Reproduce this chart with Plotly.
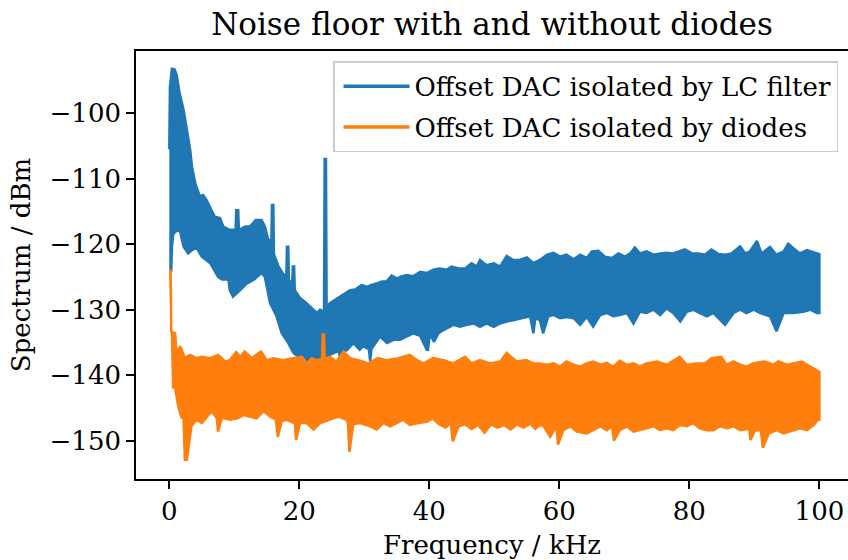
import plotly.graph_objects as go

# Spectrum envelopes (frequency in kHz, level in dBm).
# The measured traces are dense noise, so each one is kept as its upper and
# lower envelope and drawn as a filled band between them.

# --- Offset DAC isolated by LC filter ---------------------------------------
lc_upper_freq = [0.0, 0.1, 0.4, 0.8, 1.1, 1.6, 2.2, 2.7, 3.2, 3.5, 4.0, 4.7, 5.2,
                 5.7, 6.3, 7.0, 7.8, 8.3, 9.3, 10.2, 10.3, 10.6, 10.7, 11.7, 12.4,
                 13.3, 14.2, 14.7, 15.2, 15.7, 15.8, 16.0, 16.1, 16.8, 17.5, 18.0,
                 18.1, 18.3, 18.4, 18.9, 19.0, 19.2, 19.3, 20.1, 20.9, 21.6, 22.2,
                 22.7, 23.2, 23.8, 23.9, 24.1, 24.2, 24.7, 25.5, 26.3, 27.0, 27.8,
                 28.6, 29.6, 30.4, 31.1, 31.9, 32.7, 33.4, 34.2, 35.0, 35.7, 36.5,
                 37.5, 38.6, 39.6, 40.6, 41.6, 42.7, 43.4, 44.5, 45.5, 46.5, 47.3,
                 47.8, 48.8, 49.9, 50.9, 51.9, 52.9, 53.9, 55.0, 56.0, 57.0, 58.1,
                 59.1, 60.1, 61.1, 62.2, 63.2, 64.2, 65.0, 66.0, 67.0, 68.1, 69.1,
                 70.1, 70.9, 71.6, 72.4, 73.4, 74.5, 75.5, 76.5, 77.5, 78.6, 79.3,
                 80.4, 81.4, 82.4, 83.4, 84.5, 85.5, 86.5, 87.8, 88.6, 89.3, 90.4,
                 91.1, 92.4, 93.4, 94.5, 95.2, 96.0, 97.0, 98.1, 98.8, 99.8, 100.0]
lc_upper = [-105.5, -96.0, -93.2, -93.3, -94.0, -97.0, -99.5, -102.5, -105.5, -108.2,
            -110.7, -112.7, -112.5, -113.2, -114.3, -115.8, -116.0, -117.3, -117.8,
            -117.8, -114.8, -114.8, -117.8, -117.3, -117.3, -116.3, -116.3, -117.3,
            -119.2, -119.8, -114.0, -114.0, -121.5, -123.4, -124.5, -125.0, -120.4,
            -120.4, -125.5, -126.0, -123.4, -123.4, -127.0, -128.2, -128.8, -129.5,
            -130.0, -130.5, -130.0, -130.3, -107.0, -107.0, -129.5, -129.0, -128.5,
            -128.0, -127.5, -127.0, -126.9, -126.2, -126.5, -126.2, -126.0, -125.7,
            -125.7, -124.8, -125.2, -124.9, -124.7, -124.9, -124.2, -124.4, -123.9,
            -123.7, -123.9, -123.4, -123.7, -123.7, -122.9, -123.4, -122.4, -123.2,
            -122.9, -123.4, -121.8, -122.4, -122.4, -122.0, -122.9, -122.4, -121.6,
            -121.3, -121.9, -121.6, -122.3, -121.6, -122.1, -121.1, -121.0, -121.9,
            -122.1, -121.4, -121.9, -121.4, -120.5, -121.4, -121.1, -121.6, -121.4,
            -121.3, -121.4, -121.1, -120.8, -121.4, -121.4, -121.6, -120.8, -121.5,
            -121.6, -121.4, -120.3, -121.4, -121.1, -119.5, -121.4, -120.4, -121.6,
            -121.1, -119.9, -120.6, -121.4, -120.9, -121.1, -121.4, -121.5]

lc_lower_freq = [0.0, 0.3, 0.4, 0.6, 0.9, 1.6, 2.2, 2.9, 3.5, 4.2, 5.0, 6.3, 7.5,
                 8.1, 9.1, 9.3, 9.8, 10.9, 11.9, 13.0, 14.2, 14.7, 15.5, 16.5,
                 17.3, 18.3, 19.1, 20.1, 21.1, 22.7, 23.2, 24.7, 25.5, 26.1, 26.3,
                 26.5, 27.3, 28.3, 29.3, 29.8, 30.7, 30.9, 31.1, 32.4, 33.5, 34.5,
                 35.5, 36.5, 37.5, 38.6, 39.6, 39.8, 40.1, 40.7, 41.4, 42.2, 43.1,
                 43.7, 44.7, 45.8, 46.8, 47.8, 48.8, 49.9, 50.9, 51.9, 52.9, 53.9,
                 55.5, 56.0, 56.3, 57.0, 57.5, 58.3, 59.1, 60.1, 61.1, 62.2, 63.2,
                 64.2, 65.2, 66.3, 67.3, 68.3, 69.3, 70.4, 71.4, 72.4, 73.4, 74.5,
                 75.5, 76.5, 77.5, 78.6, 79.6, 80.6, 81.6, 82.7, 83.7, 85.5, 86.8,
                 87.8, 88.8, 89.9, 90.9, 92.4, 93.4, 94.5, 96.0, 97.5, 98.6, 99.6,
                 100.0]
lc_lower = [-124.0, -124.0, -120.4, -118.5, -118.1, -117.8, -120.4, -121.4, -120.9,
            -120.5, -121.9, -122.9, -125.0, -125.4, -125.4, -127.0, -128.0, -127.0,
            -126.0, -125.4, -124.4, -125.0, -129.0, -131.0, -133.6, -135.1, -136.6,
            -137.4, -137.9, -138.2, -137.7, -136.9, -136.5, -136.3, -137.9, -136.3,
            -136.2, -135.1, -136.1, -135.6, -136.0, -137.9, -136.0, -134.1, -135.1,
            -134.6, -134.6, -134.1, -133.6, -134.0, -136.1, -136.1, -133.6, -134.9,
            -133.6, -133.1, -132.6, -132.3, -132.6, -132.3, -132.1, -132.6, -132.1,
            -132.6, -132.1, -131.8, -131.6, -131.3, -131.0, -133.6, -131.3, -131.6,
            -133.6, -131.0, -130.8, -131.3, -131.1, -131.3, -132.3, -131.1, -132.6,
            -130.8, -130.5, -131.0, -130.8, -130.5, -132.1, -130.3, -130.5, -130.0,
            -130.8, -129.8, -130.5, -131.8, -130.3, -130.0, -130.5, -131.0, -130.5,
            -132.3, -130.5, -130.0, -130.5, -130.0, -130.5, -131.0, -133.3, -130.5,
            -130.5, -130.3, -130.0, -130.5, -130.5]

# --- Offset DAC isolated by diodes ------------------------------------------
diode_upper_freq = [0.0, 0.2, 0.3, 0.9, 1.1, 1.7, 2.4, 3.2, 4.2, 5.0, 6.3, 7.5,
                    8.6, 9.3, 10.3, 10.9, 11.6, 12.7, 14.1, 15.0, 16.0, 17.5,
                    19.0, 20.4, 21.2, 21.9, 22.7, 23.5, 23.6, 23.8, 23.9, 24.7,
                    25.7, 26.8, 27.8, 29.1, 30.6, 32.1, 33.4, 35.2, 37.0, 38.1,
                    39.1, 40.6, 42.2, 43.7, 45.5, 46.5, 47.8, 49.3, 50.9, 51.9,
                    53.4, 54.9, 56.0, 57.0, 58.1, 59.1, 60.1, 61.1, 62.2, 63.2,
                    64.2, 65.2, 66.3, 67.3, 68.3, 69.3, 70.4, 71.4, 72.4, 73.4,
                    75.0, 76.5, 78.5, 79.6, 81.1, 82.4, 83.4, 84.9, 85.7, 86.8,
                    87.8, 88.8, 89.8, 91.6, 92.9, 93.7, 95.0, 96.0, 97.3, 98.6,
                    99.8, 100.0]
diode_upper = [-124.0, -124.0, -133.3, -133.6, -136.6, -135.6, -137.4, -136.9,
               -137.4, -137.2, -137.4, -136.9, -137.9, -137.7, -136.5, -137.2,
               -136.4, -137.4, -136.4, -137.7, -137.4, -137.7, -137.4, -137.2,
               -138.2, -137.4, -137.7, -137.5, -133.8, -133.8, -137.5, -137.2,
               -137.9, -136.4, -137.4, -137.7, -138.2, -137.4, -137.7, -137.4,
               -136.9, -137.7, -138.2, -137.4, -137.7, -138.2, -137.2, -138.2,
               -137.7, -138.2, -137.9, -136.6, -137.9, -137.7, -138.2, -138.2,
               -138.4, -138.2, -138.7, -137.9, -138.4, -138.7, -138.2, -137.9,
               -138.4, -138.1, -138.7, -137.8, -138.4, -138.2, -138.7, -138.2,
               -137.9, -138.4, -137.2, -138.4, -138.2, -138.2, -137.4, -137.2,
               -138.4, -137.9, -138.4, -138.7, -138.2, -137.9, -138.4, -137.9,
               -138.4, -138.2, -137.9, -138.7, -139.5, -139.5]

diode_lower_freq = [0.0, 0.4, 0.9, 1.4, 1.9, 2.1, 2.2, 2.4, 2.7, 3.4, 4.2, 5.0,
                    5.8, 6.5, 7.1, 7.3, 7.5, 8.1, 9.3, 10.4, 11.4, 12.4, 13.4,
                    14.5, 15.5, 16.4, 16.5, 16.7, 17.3, 18.1, 19.2, 19.3, 19.5,
                    20.1, 21.1, 22.2, 23.2, 24.7, 26.0, 27.3, 27.5, 27.7, 28.3,
                    29.3, 30.9, 31.9, 32.9, 34.0, 35.0, 36.0, 37.0, 38.3, 39.6,
                    40.5, 41.5, 42.5, 43.3, 43.4, 43.6, 44.5, 45.5, 46.5, 47.5,
                    48.5, 49.5, 50.5, 51.5, 52.5, 53.5, 54.5, 55.5, 56.3, 57.0,
                    57.6, 58.6, 59.5, 59.6, 59.8, 60.6, 61.7, 62.7, 64.2, 65.2,
                    66.3, 67.3, 68.1, 68.2, 68.4, 69.3, 70.4, 71.4, 72.4, 73.4,
                    74.5, 75.5, 76.5, 77.5, 78.6, 79.6, 80.6, 81.6, 82.7, 83.7,
                    84.7, 85.8, 86.8, 87.8, 89.1, 89.2, 89.4, 90.1, 91.0, 91.1,
                    91.3, 92.2, 93.4, 94.5, 96.0, 97.0, 98.1, 99.1, 99.8, 100.0]
diode_lower = [-141.7, -142.0, -144.8, -146.6, -145.3, -147.0, -152.9, -152.9,
               -147.8, -146.8, -147.3, -146.3, -145.5, -146.3, -146.5, -148.6,
               -146.5, -146.8, -146.6, -146.1, -146.3, -146.6, -145.5, -146.3,
               -146.8, -147.0, -149.4, -147.0, -146.8, -147.3, -147.0, -149.9,
               -147.3, -147.3, -148.3, -147.3, -146.8, -146.3, -146.8, -147.5,
               -151.7, -147.5, -147.3, -147.8, -148.3, -147.3, -147.8, -147.3,
               -146.8, -147.6, -147.3, -147.1, -146.6, -147.5, -148.0, -147.3,
               -147.8, -150.1, -147.8, -147.5, -148.2, -147.6, -148.8, -147.5,
               -148.0, -147.6, -148.3, -147.5, -148.0, -147.4, -148.2, -147.6,
               -147.8, -149.4, -147.8, -148.4, -150.6, -148.4, -147.8, -148.6,
               -148.9, -148.4, -147.8, -148.4, -147.8, -148.0, -150.0, -148.4,
               -147.8, -148.6, -148.4, -148.1, -147.8, -148.4, -148.1, -148.4,
               -147.6, -147.8, -147.3, -148.1, -148.4, -148.4, -147.8, -148.1,
               -147.8, -148.4, -148.2, -148.0, -149.9, -148.4, -148.4, -148.5,
               -151.1, -148.9, -148.4, -148.9, -148.4, -148.1, -148.4, -147.6,
               -146.8, -146.8]

SERIES = [
    ("Offset DAC isolated by LC filter", "#1f77b4",
     lc_upper_freq, lc_upper, lc_lower_freq, lc_lower),
    ("Offset DAC isolated by diodes", "#ff7f0e",
     diode_upper_freq, diode_upper, diode_lower_freq, diode_lower),
]

FONT = "DejaVu Serif"
FONT_SIZE = 26

fig = go.Figure()

for name, color, uf, uv, lf, lv in SERIES:
    # closed band: upper envelope left->right, lower envelope right->left
    fig.add_trace(go.Scatter(
        x=uf + lf[::-1],
        y=uv + lv[::-1],
        mode="lines",
        fill="toself",
        fillcolor=color,
        line=dict(color=color, width=2.5),
        showlegend=False,
        hoverinfo="skip",
    ))

# legend entries drawn as plain lines, like the original
for i, (name, color, *_rest) in enumerate(SERIES):
    fig.add_trace(go.Scatter(
        x=[None], y=[None],
        mode="lines",
        name=name,
        legendgroup=f"g{i}",
        line=dict(color=color, width=3.5),
    ))

axis_common = dict(
    showline=True,
    linecolor="black",
    linewidth=1.6,
    ticks="outside",
    ticklen=8,
    tickwidth=1.6,
    tickcolor="black",
    showgrid=False,
    zeroline=False,
    automargin=False,
    tickfont=dict(family=FONT, size=FONT_SIZE, color="black"),
)

fig.update_layout(
    width=848,
    height=560,
    margin=dict(l=136, r=0, t=51, b=81),
    paper_bgcolor="white",
    plot_bgcolor="white",
    font=dict(family=FONT, color="black"),
    title=dict(
        text="Noise floor with and without diodes",
        font=dict(family=FONT, size=31, color="black"),
        x=0.5, xref="paper", xanchor="center",
        y=1 - 24 / 560, yref="container", yanchor="middle",
    ),
    xaxis=dict(
        axis_common,
        range=[-5.12, 104.4],
        tickvals=[0, 20, 40, 60, 80, 100],
        mirror=True,
        ticklabelstandoff=0,
        title=dict(text="Frequency / kHz",
                   font=dict(family=FONT, size=FONT_SIZE), standoff=12),
    ),
    yaxis=dict(
        axis_common,
        range=[-155.85, -90.49],
        tickvals=[-150, -140, -130, -120, -110, -100],
        ticklabelstandoff=0,
        title=dict(text="Spectrum / dBm",
                   font=dict(family=FONT, size=FONT_SIZE), standoff=11),
    ),
    legend=dict(
        x=0.986, y=0.976,
        xanchor="right", yanchor="top",
        bgcolor="rgba(255,255,255,0.8)",
        bordercolor="#cccccc",
        borderwidth=1.5,
        font=dict(family=FONT, size=FONT_SIZE, color="black"),
        itemwidth=66,
        indentation=4,
        tracegroupgap=4,
    ),
)

# the page body has a default 8px margin; drop it so the figure fills the window
fig.write_html(
    "out.html",
    config={"displayModeBar": False},
    post_script="document.body.style.margin='0';document.body.style.overflow='hidden';",
)
